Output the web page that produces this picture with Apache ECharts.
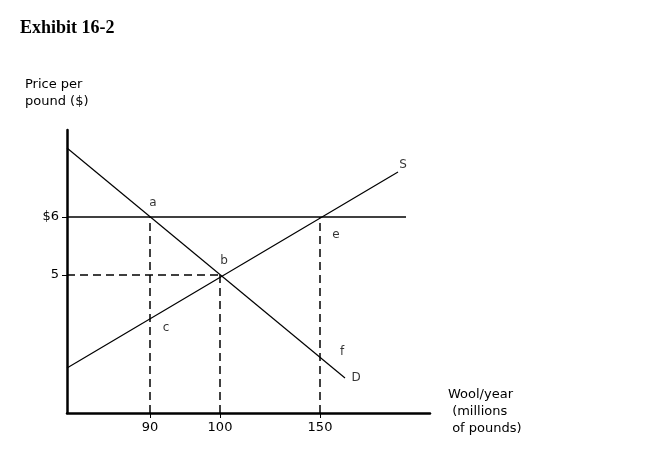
<!DOCTYPE html>
<html><head><meta charset="utf-8">
<script src="https://cdn.jsdelivr.net/npm/echarts@6/dist/echarts.min.js"></script>
<style>body{margin:0}#c{width:650px;height:475px}</style></head>
<body><div id="c"></div>
<script>
// schematic units (graph is not drawn to scale)
const xTickPos = [83, 153, 253];
const xTickLabels = ['90', '100', '150'];
const yTickPos = [138, 196];
const yTickLabels = ['5', '$6'];
const demand = [[0, 265], [278, 35]];
const supply = [[0, 45], [331, 241]];
const priceFloor = [[0, 196], [339, 196]];
const dashedH = [[0, 138], [153, 138]];
const dashedV1 = [[83, 0], [83, 196]];
const dashedV2 = [[153, 0], [153, 138]];
const dashedV3 = [[253, 0], [253, 196]];
const pointLabels = [['a', 86, 210], ['b', 157, 152], ['c', 99, 85], ['e', 269, 178], ['f', 275, 61], ['D', 289, 35], ['S', 336, 248]];

const chart = echarts.init(document.getElementById('c'));
const font = 'DejaVu Sans';
const line = (d, dashed, w) => ({type: 'line', data: d, symbol: 'none', silent: true,
  lineStyle: {color: '#000', width: w || (dashed ? 1.5 : 1.2), type: dashed ? [8, 5] : 'solid'}});
chart.setOption({
  animation: false,
  backgroundColor: '#fff',
  grid: {left: 67, right: 220, top: 130, bottom: 62},
  xAxis: {type: 'value', min: 0, max: 363, splitLine: {show: false},
    axisLine: {lineStyle: {color: '#000', width: 2.5}},
    axisTick: {customValues: xTickPos, length: 5, lineStyle: {color: '#000'}},
    axisLabel: {customValues: xTickPos, formatter: v => xTickLabels[xTickPos.indexOf(v)],
      color: '#000', fontFamily: font, fontSize: 13, margin: 8}},
  yAxis: {type: 'value', min: 0, max: 283, splitLine: {show: false},
    axisLine: {show: true, lineStyle: {color: '#000', width: 2.5}},
    axisTick: {show: true, customValues: yTickPos, length: 5, lineStyle: {color: '#000'}},
    axisLabel: {customValues: yTickPos, formatter: v => yTickLabels[yTickPos.indexOf(v)],
      color: '#000', fontFamily: font, fontSize: 13, margin: 8}},
  series: [line(demand), line(supply), line(priceFloor, false, 1.6),
    line(dashedH, true), line(dashedV1, true), line(dashedV2, true), line(dashedV3, true),
    {type: 'scatter', symbolSize: 0, silent: true,
      data: pointLabels.map(p => ({value: [p[1], p[2]], name: p[0]})),
      label: {show: true, formatter: p => p.name, color: '#000', fontFamily: font, fontSize: 12}}],
  graphic: [
    {type: 'text', left: 20, top: 19, style: {text: 'Exhibit 16-2', font: 'bold 18px "Liberation Serif"', fill: '#000'}},
    {type: 'text', left: 25, top: 76, style: {text: 'Price per\npound ($)', font: '13px DejaVu Sans', fill: '#000', lineHeight: 17}},
    {type: 'text', left: 448, top: 386, style: {text: 'Wool/year\n (millions\n of pounds)', font: '13px DejaVu Sans', fill: '#000', lineHeight: 17}}
  ]
});
</script></body></html>
